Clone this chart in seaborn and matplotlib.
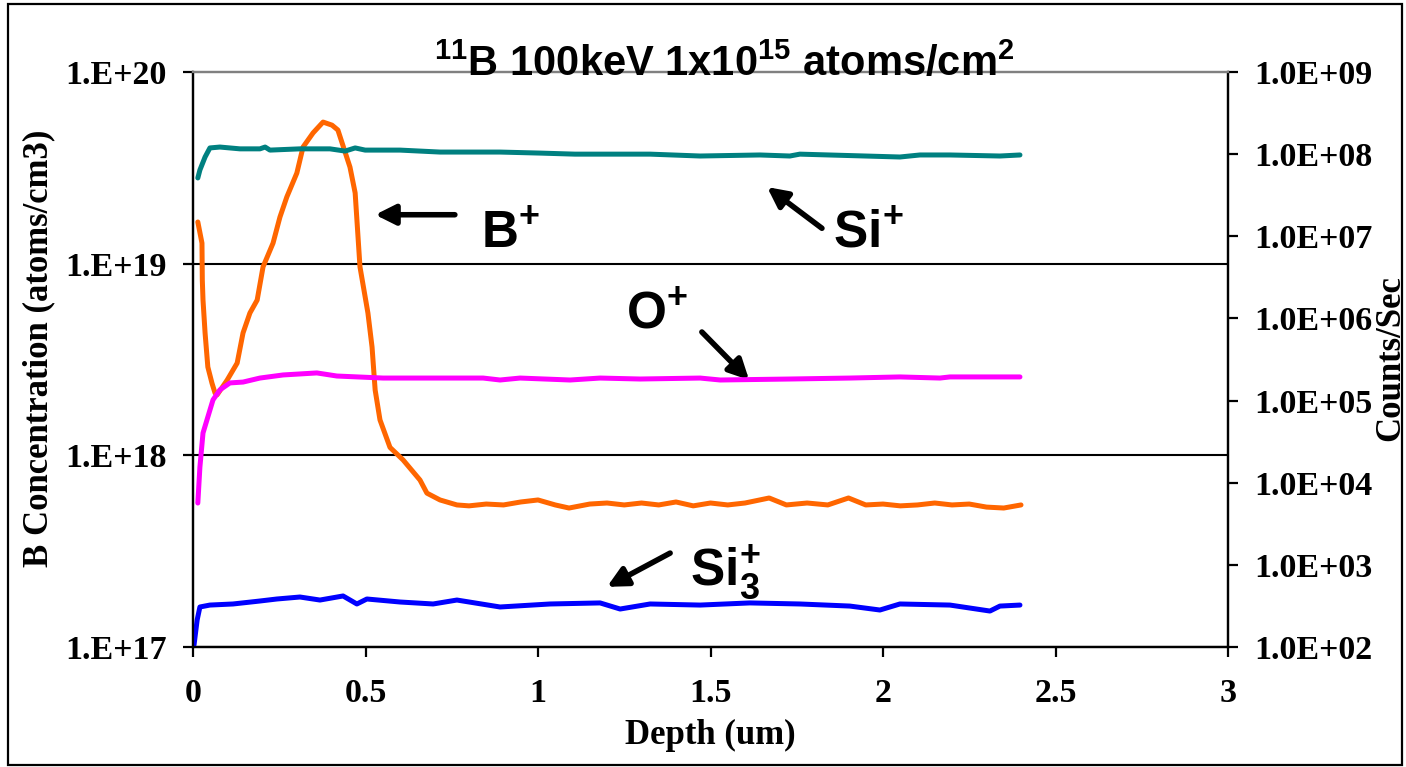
import numpy as np
import pandas as pd
import seaborn as sns
import matplotlib.pyplot as plt
from matplotlib.patches import Rectangle
from matplotlib.ticker import FixedLocator, FuncFormatter, NullLocator

# B+ concentration (left axis, atoms/cm3)
b_depth = [0.014, 0.026, 0.027, 0.029, 0.035, 0.043, 0.055, 0.064, 0.070, 0.099,
           0.128, 0.145, 0.165, 0.186, 0.203, 0.232, 0.252, 0.272, 0.301, 0.319,
           0.348, 0.377, 0.403, 0.420, 0.455, 0.470, 0.484, 0.507, 0.519, 0.528,
           0.542, 0.571, 0.609, 0.658, 0.678, 0.716, 0.765, 0.80, 0.85, 0.90,
           0.95, 1.00, 1.05, 1.09, 1.15, 1.20, 1.25, 1.30, 1.35, 1.40,
           1.45, 1.50, 1.55, 1.60, 1.67, 1.72, 1.78, 1.84, 1.90, 1.95,
           2.00, 2.05, 2.10, 2.15, 2.20, 2.25, 2.30, 2.35, 2.40]
b_conc = [1.65e19, 1.28e19, 8.2e18, 6.46e18, 4.35e18, 2.89e18, 2.38e18, 2.11e18, 2.07e18, 2.47e18,
          3.03e18, 4.35e18, 5.53e18, 6.46e18, 9.62e18, 1.28e19, 1.75e19, 2.23e19, 2.97e19, 4.06e19,
          4.81e19, 5.48e19, 5.28e19, 4.98e19, 3.19e19, 2.34e19, 9.62e18, 5.53e18, 3.67e18, 2.19e18,
          1.53e18, 1.10e18, 9.46e17, 7.43e17, 6.35e17, 5.85e17, 5.51e17, 5.45e17, 5.57e17, 5.51e17,
          5.71e17, 5.85e17, 5.51e17, 5.31e17, 5.57e17, 5.64e17, 5.51e17, 5.64e17, 5.51e17, 5.71e17,
          5.45e17, 5.64e17, 5.51e17, 5.64e17, 5.99e17, 5.51e17, 5.64e17, 5.51e17, 5.99e17, 5.51e17,
          5.57e17, 5.45e17, 5.51e17, 5.64e17, 5.51e17, 5.57e17, 5.37e17, 5.31e17, 5.51e17]

# matrix signals (right axis, counts/sec)
si_depth = [0.014, 0.020, 0.035, 0.049, 0.078, 0.136, 0.194, 0.209, 0.223, 0.310,
            0.397, 0.441, 0.470, 0.499, 0.600, 0.716, 0.890, 1.006, 1.107, 1.325,
            1.470, 1.643, 1.730, 1.759, 2.049, 2.107, 2.194, 2.339, 2.397]
si_counts = [5.13e7, 6.41e7, 9.23e7, 1.19e8, 1.22e8, 1.16e8, 1.16e8, 1.22e8, 1.12e8, 1.16e8,
             1.16e8, 1.09e8, 1.19e8, 1.12e8, 1.12e8, 1.06e8, 1.06e8, 1.03e8, 1.00e8, 1.00e8,
             9.49e7, 9.77e7, 9.49e7, 1.00e8, 9.23e7, 9.77e7, 9.77e7, 9.49e7, 9.77e7]

o_depth = [0.014, 0.020, 0.029, 0.043, 0.058, 0.078, 0.107, 0.145, 0.194, 0.261,
           0.359, 0.417, 0.551, 0.841, 0.890, 0.948, 1.093, 1.180, 1.296, 1.470,
           1.528, 1.730, 1.904, 2.049, 2.165, 2.194, 2.397]
o_counts = [5.66e3, 1.55e4, 4.03e4, 6.31e4, 1.02e5, 1.35e5, 1.64e5, 1.68e5, 1.88e5, 2.05e5,
            2.17e5, 1.99e5, 1.88e5, 1.88e5, 1.78e5, 1.88e5, 1.78e5, 1.88e5, 1.83e5, 1.88e5,
            1.78e5, 1.83e5, 1.88e5, 1.94e5, 1.88e5, 1.94e5, 1.94e5]

si3_depth = [0.003, 0.012, 0.020, 0.049, 0.116, 0.194, 0.243, 0.310, 0.368, 0.435,
             0.475, 0.504, 0.600, 0.696, 0.765, 0.890, 1.035, 1.180, 1.238, 1.325,
             1.470, 1.614, 1.759, 1.904, 1.991, 2.049, 2.194, 2.310, 2.339, 2.397]
si3_counts = [1.06e2, 2.13e2, 3.07e2, 3.24e2, 3.34e2, 3.63e2, 3.84e2, 4.06e2, 3.73e2, 4.18e2,
              3.34e2, 3.84e2, 3.53e2, 3.34e2, 3.73e2, 3.07e2, 3.34e2, 3.44e2, 2.90e2, 3.34e2,
              3.24e2, 3.44e2, 3.34e2, 3.15e2, 2.82e2, 3.34e2, 3.24e2, 2.74e2, 3.15e2, 3.24e2]

x_ticks = [0, 0.5, 1, 1.5, 2, 2.5, 3]
x_tick_labels = ["0", "0.5", "1", "1.5", "2", "2.5", "3"]
left_ticks = [1e17, 1e18, 1e19, 1e20]
right_ticks = [1e2, 1e3, 1e4, 1e5, 1e6, 1e7, 1e8, 1e9]

sns.set_style("white")
plt.rcParams["font.family"] = ["Liberation Serif", "DejaVu Serif"]
plt.rcParams["font.weight"] = "bold"
for key in ("text.color", "axes.labelcolor", "xtick.color", "ytick.color"):
    plt.rcParams[key] = "black"
plt.rcParams["mathtext.fontset"] = "custom"
plt.rcParams["mathtext.rm"] = "Liberation Sans:bold"
plt.rcParams["mathtext.it"] = "Liberation Sans:bold"
plt.rcParams["mathtext.bf"] = "Liberation Sans:bold"

fig = plt.figure(figsize=(14.06, 7.67), dpi=100)
ax = fig.add_axes([193 / 1406, 1 - 647 / 767, 1035 / 1406, 575 / 767])
ax2 = ax.twinx()

lw = 3.6
sns.lineplot(x=b_depth, y=b_conc, ax=ax, color="#FF6600", lw=lw, estimator=None, sort=False)
sns.lineplot(x=si_depth, y=si_counts, ax=ax2, color="#008080", lw=lw, estimator=None, sort=False)
sns.lineplot(x=o_depth, y=o_counts, ax=ax2, color="#FF00FF", lw=lw, estimator=None, sort=False)
sns.lineplot(x=si3_depth, y=si3_counts, ax=ax2, color="#0000FF", lw=lw, estimator=None, sort=False)

# left axis
ax.set_yscale("log")
ax.set_ylim(1e17, 1e20)
ax.yaxis.set_major_locator(FixedLocator(left_ticks))
ax.yaxis.set_minor_locator(NullLocator())
ax.yaxis.set_major_formatter(FuncFormatter(lambda v, _: f"1.E+{int(round(np.log10(v)))}"))
ax.set_xlim(0, 3)
ax.set_xticks(x_ticks)
ax.set_xticklabels(x_tick_labels)

# right axis
ax2.set_yscale("log")
ax2.set_ylim(1e2, 1e9)
ax2.yaxis.set_major_locator(FixedLocator(right_ticks))
ax2.yaxis.set_minor_locator(NullLocator())
ax2.yaxis.set_major_formatter(FuncFormatter(lambda v, _: f"1.0E+{int(round(np.log10(v))):02d}"))
ax2.set_xlim(0, 3)

for a in (ax, ax2):
    for s in a.spines.values():
        s.set_color("black")
        s.set_linewidth(1.6)
    a.spines["top"].set_color("#808080")

ax.yaxis.grid(True, color="black", lw=1.5)
ax.get_ygridlines()[-1].set_visible(False)
ax.xaxis.grid(False)
ax2.grid(False)

ax.tick_params(axis="y", which="major", direction="out", length=7, width=1.6,
               labelsize=24.5, pad=12, left=True)
ax.tick_params(axis="x", which="major", direction="out", length=7, width=1.6,
               labelsize=24.5, pad=15, bottom=True)
ax2.tick_params(axis="y", which="major", direction="out", length=7, width=1.6,
                labelsize=24.5, pad=12, right=True)

ax.set_xlabel("Depth (um)", fontsize=25, fontweight="bold")
ax.xaxis.set_label_coords(0.5, -0.125)
ax.set_ylabel("B Concentration (atoms/cm3)", fontsize=25, fontweight="bold")
ax.yaxis.set_label_coords(-0.1333, 0.52)
ax2.set_ylabel("Counts/Sec", fontsize=25, fontweight="bold")
ax2.yaxis.set_label_coords(1.141, 0.503)

# title
fig.text(724 / 1406, 1 - 64 / 767, r"$^{11}$B 100keV 1x10$^{15}$ atoms/cm$^{2}$",
         ha="center", va="center", fontsize=30, family="Liberation Sans")

# annotations
arrow = dict(arrowstyle="-|>", lw=4, color="black", mutation_scale=30,
             shrinkA=0, shrinkB=0)
lab = dict(fontsize=37, ha="left", va="baseline", family="Liberation Sans")
ax.annotate("", xy=(0.528, 1.8e19), xytext=(0.759, 1.8e19), arrowprops=arrow)
ax.text(0.835, 1.21e19, r"B$^{+}$", **lab)
ax.annotate("", xy=(1.664, 2.51e19), xytext=(1.823, 1.53e19), arrowprops=arrow)
ax.text(1.855, 1.21e19, r"Si$^{+}$", **lab)
ax.annotate("", xy=(1.612, 2.47e18), xytext=(1.475, 4.4e18), arrowprops=arrow)
ax.text(1.255, 4.6e18, r"O$^{+}$", **lab)
ax.annotate("", xy=(1.20, 2.06e17), xytext=(1.383, 3.09e17), arrowprops=arrow)
ax.text(1.44, 2.1e17, r"Si$_{3}^{+}$", **lab)

fig.add_artist(Rectangle((8 / 1406, 2 / 767), 1394 / 1406, 761 / 767,
                         transform=fig.transFigure, fill=False, ec="black", lw=1.6))

fig.savefig("out.png", dpi=100)
